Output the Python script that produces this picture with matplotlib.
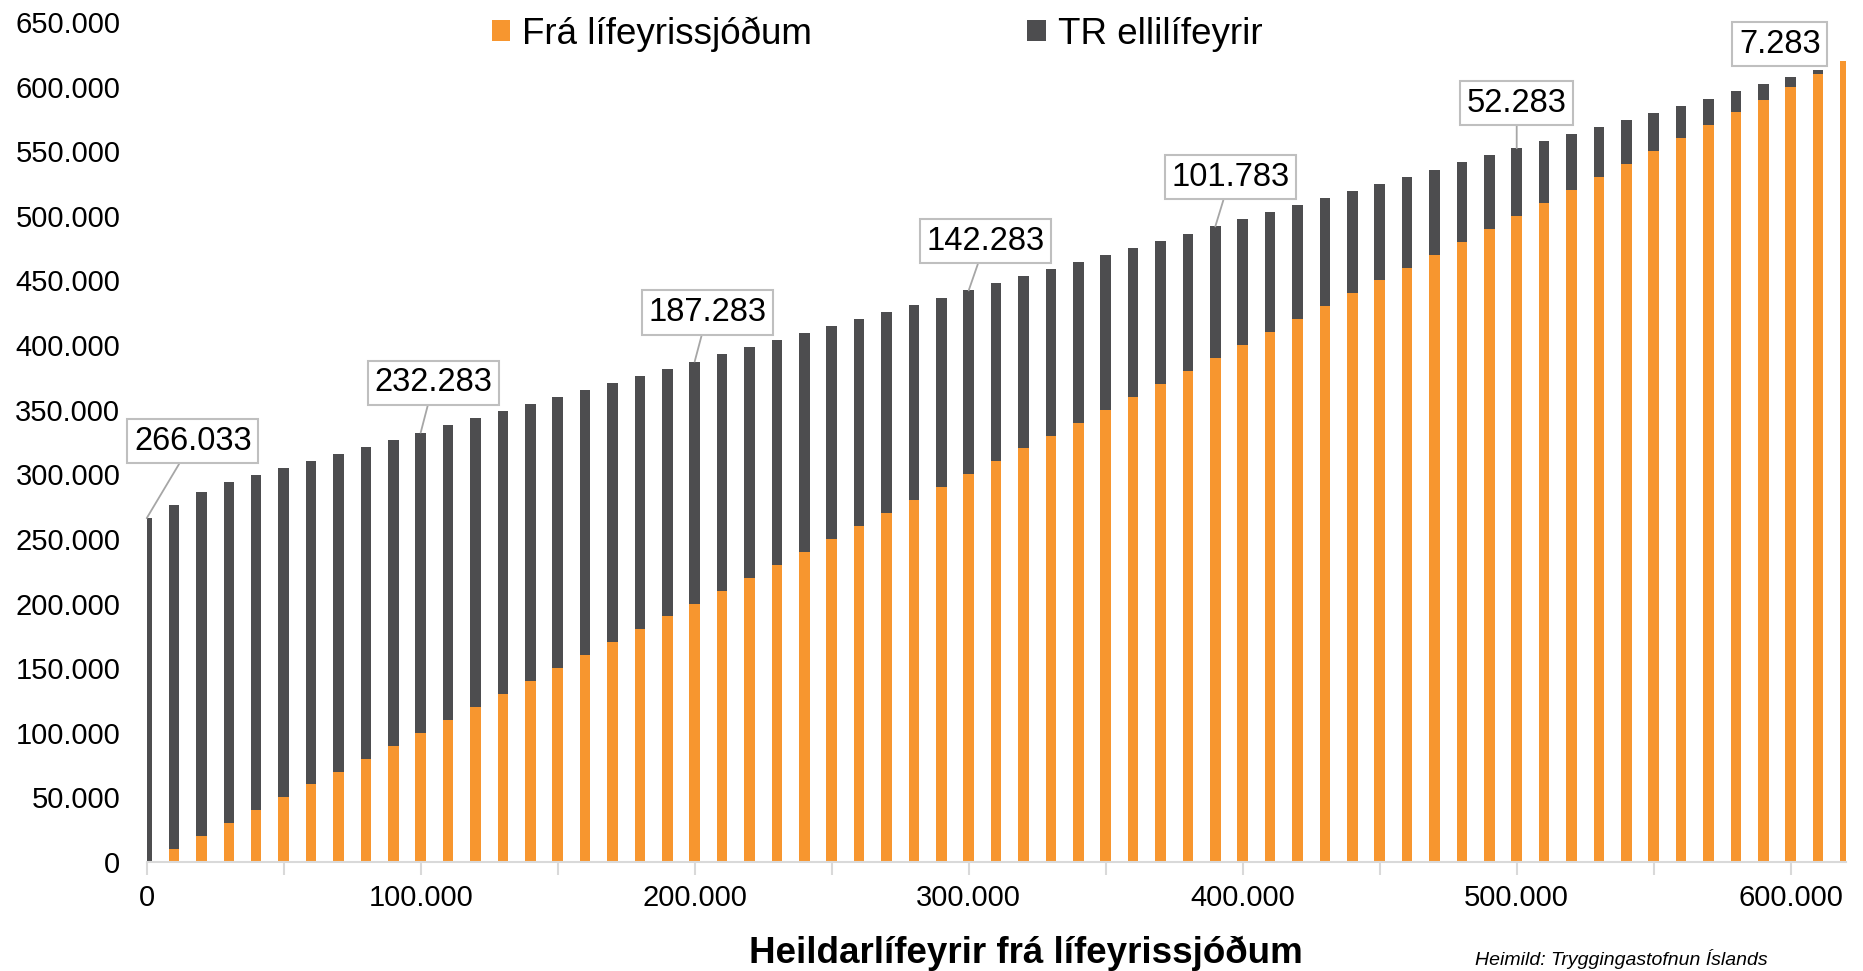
import matplotlib
matplotlib.use('Agg')
from matplotlib import pyplot as plt
from matplotlib.patches import Patch
from matplotlib.ticker import FuncFormatter, MultipleLocator

plt.rcParams['font.family'] = ['Liberation Sans', 'DejaVu Sans']

# heildarlífeyrir frá lífeyrissjóðum (x-ás), kr. á mánuði
heildarlifeyrir = [0, 10000, 20000, 30000, 40000, 50000, 60000, 70000, 80000, 90000,
                   100000, 110000, 120000, 130000, 140000, 150000, 160000, 170000, 180000, 190000,
                   200000, 210000, 220000, 230000, 240000, 250000, 260000, 270000, 280000, 290000,
                   300000, 310000, 320000, 330000, 340000, 350000, 360000, 370000, 380000, 390000,
                   400000, 410000, 420000, 430000, 440000, 450000, 460000, 470000, 480000, 490000,
                   500000, 510000, 520000, 530000, 540000, 550000, 560000, 570000, 580000, 590000,
                   600000, 610000, 620000]

# orange part = what comes from the pension funds
fra_lifeyrissjodum = list(heildarlifeyrir)

# TR ellilífeyrir on top
tr_ellilifeyrir = [266033, 266033, 266033, 263783, 259283, 254783, 250283, 245783, 241283, 236783,
                   232283, 227783, 223283, 218783, 214283, 209783, 205283, 200783, 196283, 191783,
                   187283, 182783, 178283, 173783, 169283, 164783, 160283, 155783, 151283, 146783,
                   142283, 137783, 133283, 128783, 124283, 119783, 115283, 110783, 106283, 101783,
                   97283, 92783, 88283, 83783, 79283, 74783, 70283, 65783, 61283, 56783,
                   52283, 47783, 43283, 38783, 34283, 29783, 25283, 20783, 16283, 11783,
                   7283, 2783, 0]

# which bars get a value box, and where the box sits (offset in pixels)
merkt_idx = [0, 10, 20, 30, 39, 50, 60]
merkt_offset = [(46, 77), (13, 50), (13, 49), (17, 49), (15, 49), (0, 45), (-11, 33)]

ORANGE = '#F7962F'
DARK = '#4D4D4F'
GREY = '#D9D9D9'


def fmt_thousands(v, pos=None):
    return '{:,.0f}'.format(v).replace(',', '.')


fig = plt.figure(figsize=(18.63, 9.71), dpi=100)
ax = fig.add_axes([0.07874, 0.11226, 0.91187, 0.86508])

ax.bar(heildarlifeyrir, fra_lifeyrissjodum, width=3800, color=ORANGE, linewidth=0)
ax.bar(heildarlifeyrir, tr_ellilifeyrir, width=3800, bottom=fra_lifeyrissjodum,
       color=DARK, linewidth=0)

ax.set_xlim(0, 620000)
ax.set_ylim(0, 650000)

ax.xaxis.set_major_locator(MultipleLocator(100000))
ax.xaxis.set_minor_locator(MultipleLocator(50000))
ax.yaxis.set_major_locator(MultipleLocator(50000))
ax.xaxis.set_major_formatter(FuncFormatter(fmt_thousands))
ax.yaxis.set_major_formatter(FuncFormatter(fmt_thousands))

for s in ['top', 'right', 'left']:
    ax.spines[s].set_visible(False)
ax.spines['bottom'].set_color(GREY)
ax.spines['bottom'].set_linewidth(1.5)

ax.tick_params(axis='x', which='both', direction='out', length=9, width=1.5,
               color=GREY, labelsize=21, pad=7)
ax.tick_params(axis='y', length=0, labelsize=21, pad=19)

# value boxes with leader lines
for i, (dx, dy) in zip(merkt_idx, merkt_offset):
    x = heildarlifeyrir[i]
    top = fra_lifeyrissjodum[i] + tr_ellilifeyrir[i]
    arrow = None
    if i != 60:
        arrow = dict(arrowstyle='-', color='#A6A6A6', lw=1.3, shrinkA=0, shrinkB=0)
    ax.annotate(fmt_thousands(tr_ellilifeyrir[i]), xy=(x, top), xytext=(dx, dy),
                textcoords='offset pixels', ha='center', va='center', fontsize=23.5,
                bbox=dict(boxstyle='square,pad=0.2', fc='white', ec='#BFBFBF', lw=1.5),
                arrowprops=arrow, annotation_clip=False)

handles = [Patch(facecolor=ORANGE, label='Frá lífeyrissjóðum'),
           Patch(facecolor=DARK, label='TR ellilífeyrir')]
fig.legend(handles=handles, loc='center left', bbox_to_anchor=(492 / 1863, 1 - 34 / 971),
           ncol=2, frameon=False, fontsize=26.5, handlelength=0.5, handleheight=0.5,
           handletextpad=0.32, columnspacing=5.85, borderpad=0, borderaxespad=0)

fig.text(1026 / 1863, 1 - 963 / 971, 'Heildarlífeyrir frá lífeyrissjóðum', ha='center',
         va='baseline', fontsize=26.5, fontweight='bold')
# source note sits right at the bottom edge; lifted just enough to be readable
fig.text(1475 / 1863, 0.002, 'Heimild: Tryggingastofnun Íslands', ha='left',
         va='bottom', fontsize=14, style='italic')

fig.savefig('out.png', dpi=100)
